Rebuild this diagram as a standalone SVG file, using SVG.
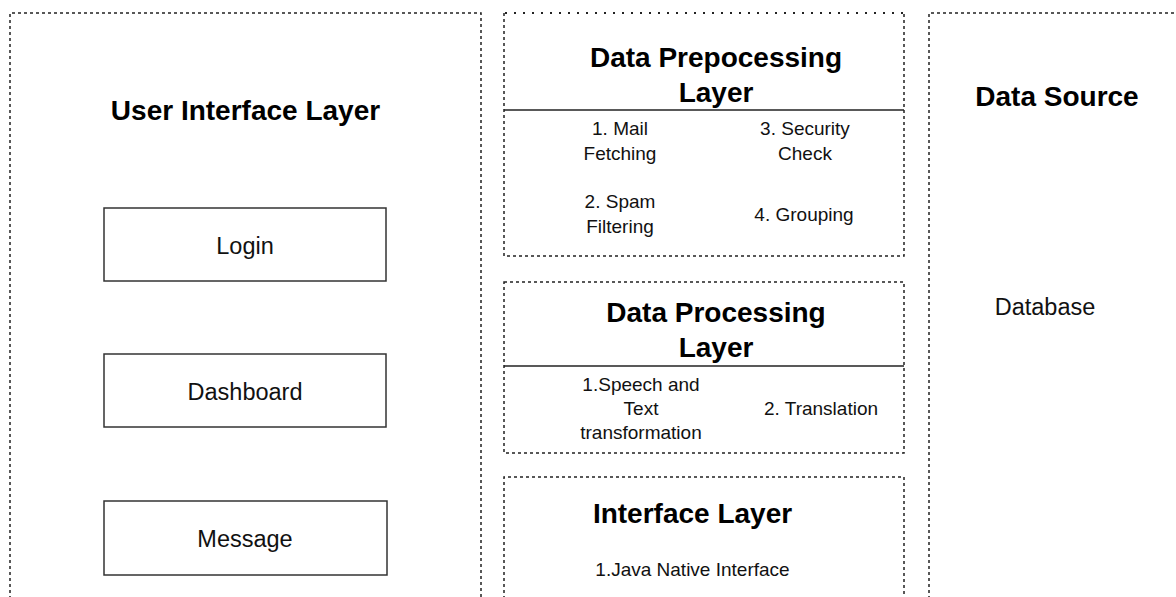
<svg xmlns="http://www.w3.org/2000/svg" width="1176" height="597" viewBox="0 0 1176 597">
<style>
.frame{fill:none;stroke:#222;stroke-width:1.5;stroke-dasharray:3 3}
.dots{fill:none;stroke:#222;stroke-width:2;stroke-dasharray:2 7}
.sep{stroke:#222;stroke-width:1.5}
.box{fill:#fff;stroke:#333;stroke-width:1.5}
.h{font-family:"Liberation Sans",Arial,sans-serif;font-weight:bold;font-size:28px;fill:#000;text-anchor:middle}
.t{font-family:"Liberation Sans",Arial,sans-serif;font-size:19px;fill:#111;text-anchor:middle}
.n{font-family:"Liberation Sans",Arial,sans-serif;font-size:23.5px;fill:#111;text-anchor:middle}
</style>
<rect width="1176" height="597" fill="#fff"/>
<g id="ui-layer">
<path class="frame" d="M10,605 V13 H481 V605"/>
<text class="h" x="245.5" y="120">User Interface Layer</text>
</g>
<g id="login"><rect class="box" x="104" y="208" width="282" height="73"/><text class="n" x="245" y="254">Login</text></g>
<g id="dashboard"><rect class="box" x="104" y="354" width="282" height="73"/><text class="n" x="245" y="400">Dashboard</text></g>
<g id="message"><rect class="box" x="104" y="501" width="283" height="74"/><text class="n" x="245" y="547">Message</text></g>
<g id="prepro-layer">
<path class="dots" d="M505,13 H904"/>
<path class="frame" d="M504,13 V256 H904 V13"/>
<line class="sep" x1="504" y1="110" x2="904" y2="110"/>
<text class="h" x="716" y="67">Data Prepocessing</text>
<text class="h" x="716" y="102">Layer</text>
<text class="t" x="620" y="135">1. Mail</text>
<text class="t" x="620" y="160">Fetching</text>
<text class="t" x="805" y="135">3. Security</text>
<text class="t" x="805" y="160">Check</text>
<text class="t" x="620" y="208">2. Spam</text>
<text class="t" x="620" y="233">Filtering</text>
<text class="t" x="804" y="221">4. Grouping</text>
</g>
<g id="processing-layer">
<rect class="frame" x="504" y="282" width="400" height="171"/>
<line class="sep" x1="504" y1="366" x2="904" y2="366"/>
<text class="h" x="716" y="322">Data Processing</text>
<text class="h" x="716" y="357">Layer</text>
<text class="t" x="641" y="391">1.Speech and</text>
<text class="t" x="641" y="415">Text</text>
<text class="t" x="641" y="439">transformation</text>
<text class="t" x="821" y="415">2. Translation</text>
</g>
<g id="interface-layer">
<path class="frame" d="M504,605 V477 H904 V605"/>
<text class="h" x="692.5" y="523">Interface Layer</text>
<text class="t" x="692.5" y="576">1.Java Native Interface</text>
</g>
<g id="data-source">
<path class="frame" d="M929,605 V13 H1185"/>
<text class="h" x="1057" y="106">Data Source</text>
<text class="n" x="1045" y="315">Database</text>
</g>
<g id="connectors"></g>
</svg>
